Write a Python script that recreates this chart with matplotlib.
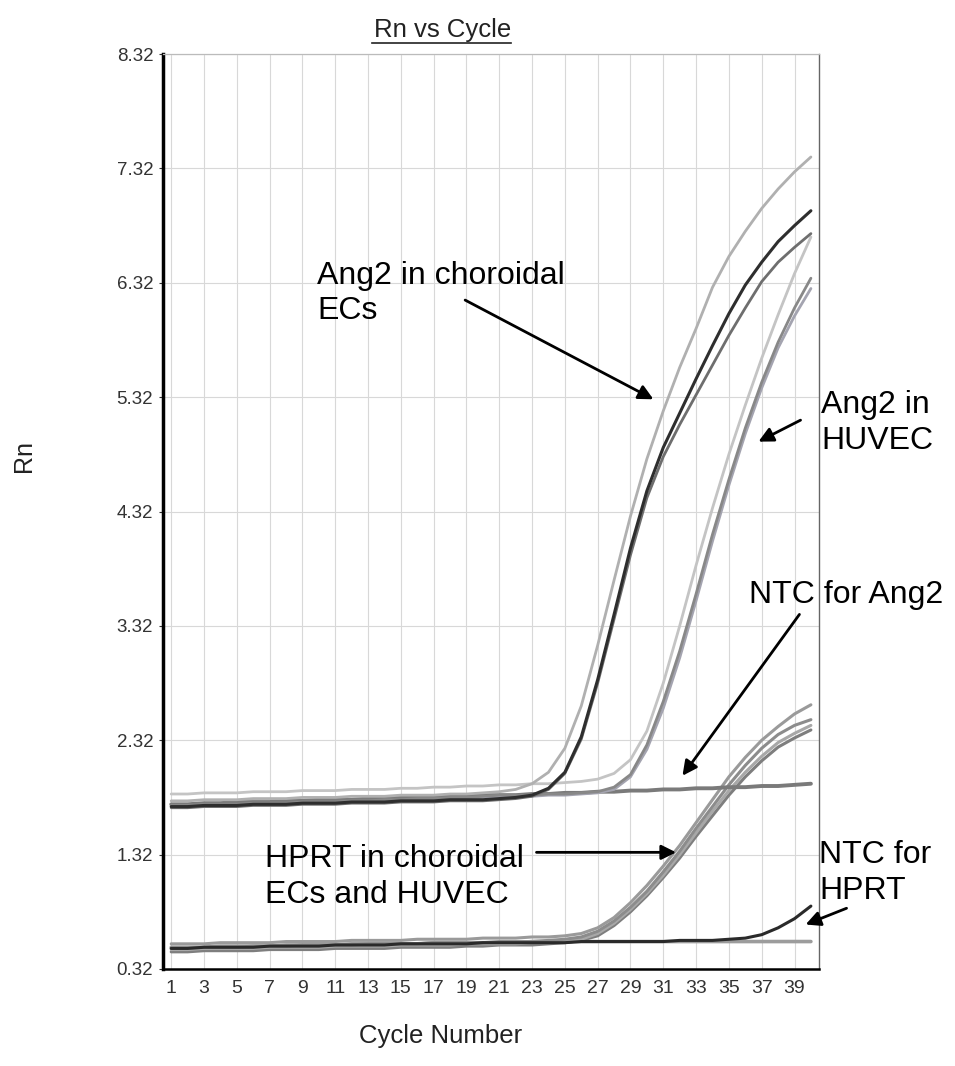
import matplotlib.pyplot as plt

plt.rcParams['font.family'] = ['Liberation Sans', 'DejaVu Sans']

# Ciclos 1..40
ciclos = list(range(1, 41))

# Ang2 em ECs de coroide (3 pocos)
ang2_cor_1 = [1.79, 1.79, 1.80, 1.80, 1.80, 1.81, 1.81, 1.81, 1.82, 1.82,
              1.82, 1.83, 1.83, 1.83, 1.84, 1.84, 1.84, 1.85, 1.85, 1.86,
              1.87, 1.89, 1.94, 2.04, 2.25, 2.62, 3.15, 3.72, 4.28, 4.78,
              5.20, 5.58, 5.92, 6.28, 6.55, 6.77, 6.97, 7.14, 7.29, 7.42]
ang2_cor_2 = [1.74, 1.74, 1.75, 1.75, 1.75, 1.76, 1.76, 1.76, 1.77, 1.77,
              1.77, 1.78, 1.78, 1.78, 1.79, 1.79, 1.79, 1.80, 1.80, 1.80,
              1.81, 1.82, 1.84, 1.90, 2.04, 2.35, 2.85, 3.42, 4.00, 4.50,
              4.88, 5.18, 5.48, 5.77, 6.05, 6.30, 6.50, 6.68, 6.82, 6.95]
ang2_cor_3 = [1.73, 1.73, 1.74, 1.74, 1.74, 1.75, 1.75, 1.75, 1.76, 1.76,
              1.76, 1.77, 1.77, 1.77, 1.78, 1.78, 1.78, 1.79, 1.79, 1.79,
              1.80, 1.81, 1.83, 1.89, 2.03, 2.33, 2.82, 3.38, 3.94, 4.44,
              4.80, 5.08, 5.34, 5.60, 5.86, 6.10, 6.33, 6.50, 6.63, 6.75]

# Ang2 em HUVEC (3 pocos)
ang2_huv_1 = [1.85, 1.85, 1.86, 1.86, 1.86, 1.87, 1.87, 1.87, 1.88, 1.88,
              1.88, 1.89, 1.89, 1.89, 1.90, 1.90, 1.91, 1.91, 1.92, 1.92,
              1.93, 1.93, 1.94, 1.94, 1.95, 1.96, 1.98, 2.03, 2.15, 2.40,
              2.82, 3.32, 3.85, 4.35, 4.82, 5.25, 5.66, 6.04, 6.40, 6.72]
ang2_huv_2 = [1.75, 1.75, 1.76, 1.76, 1.76, 1.77, 1.77, 1.77, 1.78, 1.78,
              1.78, 1.79, 1.79, 1.80, 1.80, 1.81, 1.81, 1.82, 1.82, 1.83,
              1.84, 1.84, 1.84, 1.85, 1.85, 1.86, 1.87, 1.91, 2.02, 2.28,
              2.66, 3.10, 3.60, 4.12, 4.60, 5.05, 5.45, 5.80, 6.10, 6.36]
ang2_huv_3 = [1.74, 1.74, 1.75, 1.75, 1.75, 1.76, 1.76, 1.76, 1.77, 1.77,
              1.77, 1.78, 1.78, 1.79, 1.79, 1.80, 1.80, 1.81, 1.81, 1.82,
              1.83, 1.83, 1.83, 1.84, 1.84, 1.85, 1.86, 1.89, 2.00, 2.24,
              2.60, 3.04, 3.54, 4.06, 4.55, 5.00, 5.40, 5.75, 6.03, 6.27]

# NTC para Ang2
ntc_ang2 = [1.76, 1.76, 1.77, 1.77, 1.78, 1.78, 1.78, 1.79, 1.79, 1.80,
            1.80, 1.80, 1.81, 1.81, 1.82, 1.82, 1.82, 1.83, 1.83, 1.84,
            1.84, 1.84, 1.85, 1.85, 1.86, 1.86, 1.87, 1.87, 1.88, 1.88,
            1.89, 1.89, 1.90, 1.90, 1.91, 1.91, 1.92, 1.92, 1.93, 1.94]

# HPRT em ECs de coroide e HUVEC (4 pocos)
hprt_1 = [0.54, 0.54, 0.54, 0.55, 0.55, 0.55, 0.55, 0.56, 0.56, 0.56,
          0.56, 0.57, 0.57, 0.57, 0.57, 0.58, 0.58, 0.58, 0.58, 0.59,
          0.59, 0.59, 0.60, 0.60, 0.61, 0.63, 0.68, 0.77, 0.90, 1.05,
          1.22, 1.40, 1.60, 1.80, 2.00, 2.17, 2.32, 2.44, 2.55, 2.63]
hprt_2 = [0.50, 0.50, 0.51, 0.51, 0.51, 0.52, 0.52, 0.52, 0.53, 0.53,
          0.53, 0.53, 0.54, 0.54, 0.54, 0.54, 0.55, 0.55, 0.55, 0.55,
          0.56, 0.56, 0.56, 0.57, 0.58, 0.60, 0.65, 0.74, 0.86, 1.00,
          1.17, 1.35, 1.55, 1.74, 1.93, 2.10, 2.25, 2.37, 2.45, 2.50]
hprt_3 = [0.49, 0.49, 0.50, 0.50, 0.50, 0.50, 0.51, 0.51, 0.51, 0.51,
          0.52, 0.52, 0.52, 0.52, 0.53, 0.53, 0.53, 0.53, 0.54, 0.54,
          0.54, 0.54, 0.55, 0.55, 0.56, 0.58, 0.63, 0.72, 0.84, 0.98,
          1.14, 1.32, 1.51, 1.70, 1.88, 2.04, 2.18, 2.30, 2.38, 2.45]
hprt_4 = [0.47, 0.47, 0.48, 0.48, 0.48, 0.48, 0.49, 0.49, 0.49, 0.49,
          0.50, 0.50, 0.50, 0.50, 0.51, 0.51, 0.51, 0.51, 0.52, 0.52,
          0.53, 0.53, 0.53, 0.54, 0.55, 0.57, 0.61, 0.70, 0.82, 0.96,
          1.12, 1.29, 1.48, 1.66, 1.84, 2.00, 2.14, 2.26, 2.34, 2.41]

# NTC para HPRT (2 pocos)
ntc_hprt_1 = [0.50, 0.50, 0.51, 0.51, 0.51, 0.51, 0.52, 0.52, 0.52, 0.52,
              0.53, 0.53, 0.53, 0.53, 0.54, 0.54, 0.54, 0.54, 0.54, 0.55,
              0.55, 0.55, 0.55, 0.55, 0.55, 0.56, 0.56, 0.56, 0.56, 0.56,
              0.56, 0.57, 0.57, 0.57, 0.58, 0.59, 0.62, 0.68, 0.76, 0.87]
ntc_hprt_2 = [0.51, 0.51, 0.51, 0.52, 0.52, 0.52, 0.52, 0.53, 0.53, 0.53,
              0.53, 0.54, 0.54, 0.54, 0.54, 0.54, 0.55, 0.55, 0.55, 0.55,
              0.55, 0.55, 0.56, 0.56, 0.56, 0.56, 0.56, 0.56, 0.56, 0.56,
              0.56, 0.56, 0.56, 0.56, 0.56, 0.56, 0.56, 0.56, 0.56, 0.56]

yticks = [0.32, 1.32, 2.32, 3.32, 4.32, 5.32, 6.32, 7.32, 8.32]
xticks = list(range(1, 40, 2))

fig = plt.figure(figsize=(9.55, 10.66), dpi=100)
ax = fig.add_axes([0.1707, 0.091, 0.687, 0.8583])

# curvas (cinzas como no original digitalizado)
curvas = [
    (ntc_hprt_2, '#9c9c9c', 2.6),
    (hprt_4, '#7e7e7e', 2.2),
    (hprt_3, '#a8a8a8', 2.2),
    (hprt_2, '#8c8c8c', 2.2),
    (hprt_1, '#9a9a9a', 2.2),
    (ntc_hprt_1, '#2a2a2a', 2.2),
    (ntc_ang2, '#7a7a7a', 2.8),
    (ang2_huv_3, '#a4a4b0', 2.0),
    (ang2_huv_2, '#888888', 2.0),
    (ang2_huv_1, '#c4c4c4', 2.0),
    (ang2_cor_3, '#6e6e6e', 2.0),
    (ang2_cor_1, '#b0b0b0', 2.0),
    (ang2_cor_2, '#2e2e2e', 2.2),
]
for valores, cor, lw in curvas:
    ax.plot(ciclos, valores, color=cor, lw=lw, solid_capstyle='round')

ax.set_xlim(0.5, 40.5)
ax.set_ylim(0.32, 8.32)
ax.set_xticks(xticks)
ax.set_yticks(yticks)
ax.set_yticklabels([f'{v:.2f}' for v in yticks])
ax.tick_params(axis='x', labelsize=14, length=0, pad=8, colors='#333333')
ax.tick_params(axis='y', labelsize=13.5, length=3, pad=4, colors='#333333')
ax.grid(True, color='#d8d8d8', lw=0.8)
ax.spines['left'].set_linewidth(2.5)
ax.spines['left'].set_color('black')
ax.spines['bottom'].set_linewidth(1.8)
ax.spines['bottom'].set_color('black')
ax.spines['right'].set_color('#666666')
ax.spines['right'].set_linewidth(1.0)
ax.spines['top'].set_color('#bbbbbb')
ax.spines['top'].set_linewidth(0.9)

# titulos
fig.text(0.463, 0.965, 'Rn vs Cycle', ha='center', va='baseline', fontsize=18.5, color='#222222')
fig.text(0.461, 0.022, 'Cycle Number', ha='center', va='baseline', fontsize=18.5, color='#222222')
fig.text(0.025, 0.572, 'Rn', ha='center', va='center', rotation=90, fontsize=18, color='#222222')
fig.add_artist(plt.Line2D([0.390, 0.535], [0.960, 0.960], color='#222222', lw=1.2))

# anotacoes
seta = dict(arrowstyle='-|>', color='black', lw=2, mutation_scale=22)
fs = 23
ax.annotate('', xy=(30.55, 5.29), xytext=(18.77, 6.18), arrowprops=seta)
ax.text(9.91, 6.0, 'Ang2 in choroidal\nECs', fontsize=fs, va='baseline', linespacing=1.25)

ax.annotate('', xy=(36.65, 4.92), xytext=(39.52, 5.13), arrowprops=seta, annotation_clip=False)
ax.text(40.62, 4.87, 'Ang2 in\nHUVEC', fontsize=fs, va='baseline', linespacing=1.25, clip_on=False)

ax.annotate('', xy=(32.07, 1.99), xytext=(39.4, 3.44), arrowprops=seta, annotation_clip=False)
ax.text(36.23, 3.52, 'NTC for Ang2', fontsize=fs, va='baseline', clip_on=False)

ax.annotate('', xy=(31.95, 1.34), xytext=(23.1, 1.34), arrowprops=seta)
ax.text(6.74, 0.90, 'HPRT in choroidal\nECs and HUVEC', fontsize=fs, va='baseline', linespacing=1.25)

ax.annotate('', xy=(39.52, 0.70), xytext=(42.33, 0.86), arrowprops=seta, annotation_clip=False)
ax.text(40.5, 0.93, 'NTC for\nHPRT', fontsize=fs, va='baseline', linespacing=1.25, clip_on=False)

plt.savefig('out.png', dpi=100)
